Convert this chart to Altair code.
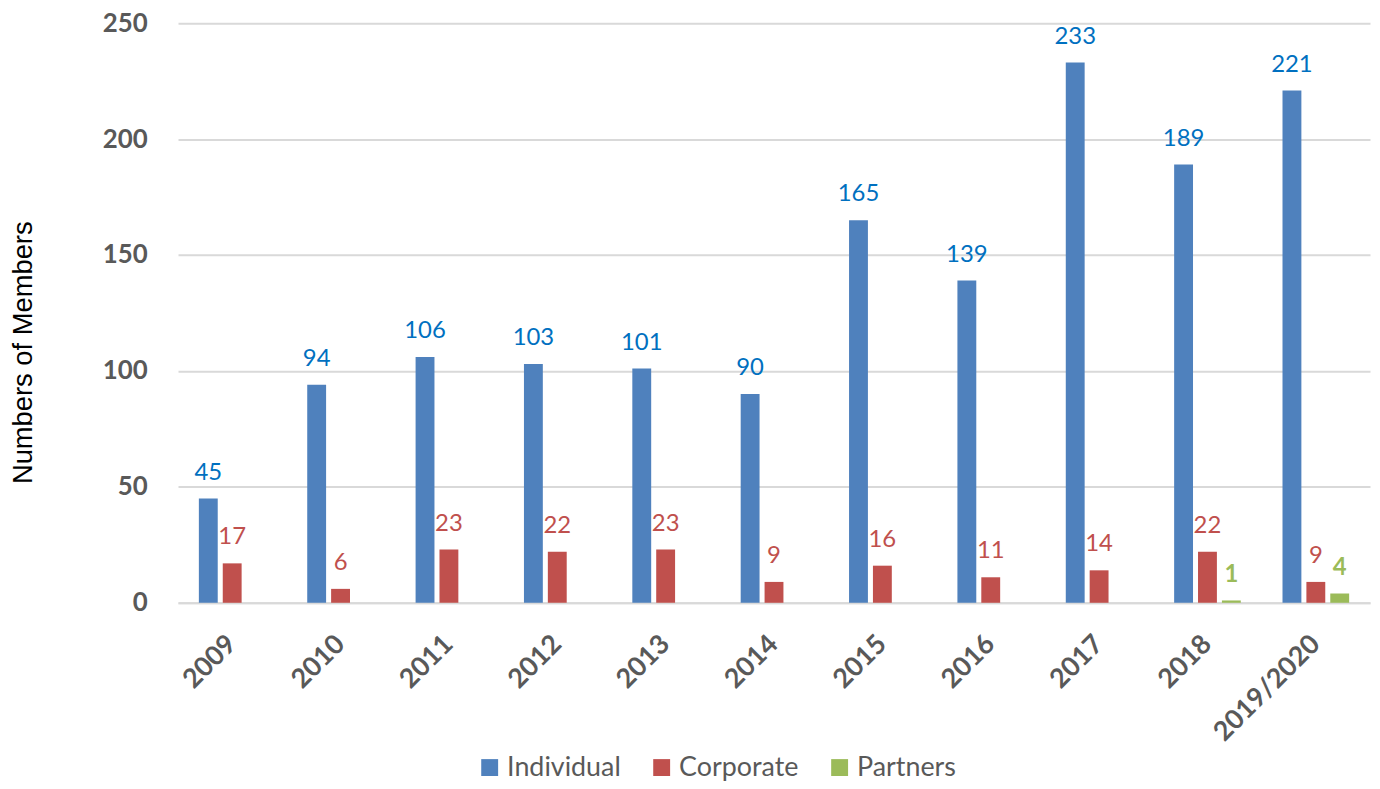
import altair as alt
import pandas as pd

years = ["2009", "2010", "2011", "2012", "2013", "2014", "2015", "2016", "2017", "2018", "2019/2020"]
individual = [45, 94, 106, 103, 101, 90, 165, 139, 233, 189, 221]
corporate = [17, 6, 23, 22, 23, 9, 16, 11, 14, 22, 9]
partners = [None, None, None, None, None, None, None, None, None, 1, 4]

series = ["Individual", "Corporate", "Partners"]
bar_colors = ["#4F81BD", "#C0504D", "#9BBB59"]
label_colors = ["#0070C0", "#C0504D", "#9BBB59"]
y_ticks = [0, 50, 100, 150, 200, 250]

rows = []
for s, vals in zip(series, [individual, corporate, partners]):
    for yr, v in zip(years, vals):
        if v is not None:
            rows.append({"year": yr, "series": s, "value": v})
df = pd.DataFrame(rows)

FONT = "Lato"
GRAY = "#595959"

x_enc = alt.X(
    "year:N",
    sort=years,
    scale=alt.Scale(paddingInner=0.385, paddingOuter=0.1925),
    axis=alt.Axis(
        title=None,
        labelAngle=-45,
        labelAlign="right",
        labelBaseline="middle",
        labelFont=FONT,
        labelFontSize=27,
        labelFontWeight="bold",
        labelColor=GRAY,
        labelPadding=37,
        labelOverlap=False,
        labelLimit=400,
        ticks=False,
        domainColor="#D9D9D9",
        domainWidth=2,
        grid=False,
    ),
)
xoff_enc = alt.XOffset(
    "series:N",
    sort=series,
    scale=alt.Scale(domain=series, paddingInner=0.21, paddingOuter=0),
)
y_enc = alt.Y(
    "value:Q",
    scale=alt.Scale(domain=[0, 250], nice=False),
    axis=alt.Axis(
        title="Numbers of Members",
        titleFont="Liberation Sans",
        titleFontSize=27.5,
        titleFontWeight="normal",
        titleColor="#000000",
        titleX=-155,
        titleY=331,
        titleAlign="center",
        titleBaseline="middle",
        titleAngle=270,
        values=y_ticks,
        labelFont=FONT,
        labelFontSize=26,
        labelFontWeight="bold",
        labelColor=GRAY,
        labelPadding=31,
        ticks=False,
        domain=False,
        gridColor="#D9D9D9",
        gridWidth=2,
    ),
)

bars = alt.Chart(df).mark_bar().encode(
    x=x_enc,
    xOffset=xoff_enc,
    y=y_enc,
    color=alt.Color(
        "series:N",
        scale=alt.Scale(domain=series, range=bar_colors),
        legend=alt.Legend(
            orient="none",
            legendX=300,
            legendY=735,
            direction="horizontal",
            title=None,
            symbolType="square",
            symbolSize=289,
            symbolStrokeWidth=0,
            labelFont=FONT,
            labelFontSize=27,
            labelColor=GRAY,
            labelOffset=4,
            columnPadding=27,
            padding=0,
        ),
    ),
)

texts = []
for s, c in zip(series, label_colors):
    t = (
        alt.Chart(df)
        .transform_filter(alt.datum.series == s)
        .mark_text(
            color=c,
            font=FONT,
            fontSize=24,
            fontWeight="bold" if s == "Partners" else "normal",
            baseline="alphabetic",
            dy=-19,
        )
        .encode(x=x_enc, xOffset=xoff_enc, y=y_enc, text="value:Q")
    )
    texts.append(t)

chart = (
    alt.layer(bars, *texts)
    .properties(
        width=1199,
        height=583,
        autosize=alt.AutoSizeParams(type="none"),
        padding={"left": 171, "top": 13, "right": 2, "bottom": 177},
    )
    .configure_view(stroke=None)
)

chart.save("out.html", embed_options={"renderer": "svg", "actions": False})
